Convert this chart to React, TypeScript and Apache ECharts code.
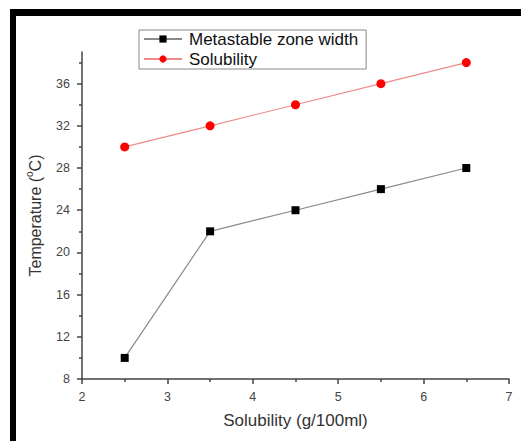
import React, { useEffect, useRef } from "react";
import * as echarts from "echarts";

const solubilityX = [2.5, 3.5, 4.5, 5.5, 6.5];
const metastableTemp = [10, 22, 24, 26, 28];
const solubilityTemp = [30, 32, 34, 36, 38];
const yMajorTicks = [8, 12, 16, 20, 24, 28, 32, 36];
const yMinorTicks = [10, 14, 18, 22, 26, 30, 34, 38];
const seriesNames = ["Metastable zone width", "Solubility"];

const FONT = "'Liberation Sans', Arial, sans-serif";

export default function App() {
  const ref = useRef<HTMLDivElement>(null);
  useEffect(() => {
    if (!ref.current) return;
    const chart = echarts.init(ref.current, null, { renderer: "svg" });
    const axisLineStyle = { color: "#444", width: 1.5 };
    chart.setOption({
      animation: false,
      backgroundColor: "#fff",
      textStyle: { fontFamily: FONT },
      grid: { left: 82, right: 12, top: 52, bottom: 62 },
      legend: {
        orient: "vertical",
        left: 139,
        top: 30,
        padding: [0, 8, 1, 4],
        itemGap: 2,
        itemWidth: 38,
        itemHeight: 9,
        borderColor: "#888",
        borderWidth: 1,
        borderRadius: 0,
        textStyle: { fontSize: 17, lineHeight: 18, color: "#111", fontFamily: FONT, padding: [0, 0, 0, 2] },
        data: seriesNames,
      },
      xAxis: {
        type: "value",
        min: 2,
        max: 7,
        interval: 1,
        name: "Solubility (g/100ml)",
        nameLocation: "middle",
        nameGap: 33,
        nameTextStyle: { fontSize: 17, color: "#333", fontFamily: FONT },
        axisLine: { show: true, onZero: false, lineStyle: axisLineStyle },
        axisTick: { show: true, inside: false, length: 5, lineStyle: axisLineStyle },
        minorTick: { show: true, splitNumber: 2, length: 3, lineStyle: { color: "#444", width: 1.5 } },
        axisLabel: { fontSize: 12.5, color: "#444", margin: 11, fontFamily: FONT },
        splitLine: { show: false },
      },
      yAxis: [
        {
          type: "value",
          min: 8,
          max: 39,
          name: "Temperature ({sup|o}C)",
          nameLocation: "middle",
          nameGap: 36,
          nameRotate: 90,
          nameTextStyle: {
            fontSize: 16,
            color: "#333",
            fontFamily: FONT,
            rich: {
              sup: { fontSize: 10, color: "#333", fontFamily: FONT, padding: [0, 0, 12, 0] },
            },
          },
          axisLine: { show: true, onZero: false, lineStyle: axisLineStyle },
          axisTick: { show: true, inside: false, length: 5, customValues: yMajorTicks, lineStyle: axisLineStyle },
          axisLabel: { fontSize: 12.5, color: "#444", margin: 12, customValues: yMajorTicks, fontFamily: FONT },
          splitLine: { show: false },
        },
        {
          type: "value",
          min: 8,
          max: 39,
          position: "left",
          axisLine: { show: false },
          axisTick: { show: true, inside: false, length: 3, customValues: yMinorTicks, lineStyle: axisLineStyle },
          axisLabel: { show: false },
          splitLine: { show: false },
        },
      ],
      series: [
        {
          name: seriesNames[0],
          type: "line",
          data: solubilityX.map((x, i) => [x, metastableTemp[i]]),
          symbol: "rect",
          symbolSize: 8,
          itemStyle: { color: "#000" },
          lineStyle: { color: "#8a8a8a", width: 1.2 },
        },
        {
          name: seriesNames[1],
          type: "line",
          data: solubilityX.map((x, i) => [x, solubilityTemp[i]]),
          symbol: "circle",
          symbolSize: 9,
          itemStyle: { color: "#ff0000" },
          lineStyle: { color: "#ef8a8a", width: 1.2 },
        },
      ],
      graphic: [
        { type: "rect", shape: { x: 10, y: 9, width: 511, height: 7 }, style: { fill: "#000" }, silent: true },
        { type: "rect", shape: { x: 10, y: 9, width: 6, height: 432 }, style: { fill: "#000" }, silent: true },
      ],
    });
    return () => chart.dispose();
  }, []);
  return (
    <div
      ref={ref}
      style={{ position: "fixed", left: 0, top: 0, width: 521, height: 441, background: "#fff" }}
    />
  );
}
